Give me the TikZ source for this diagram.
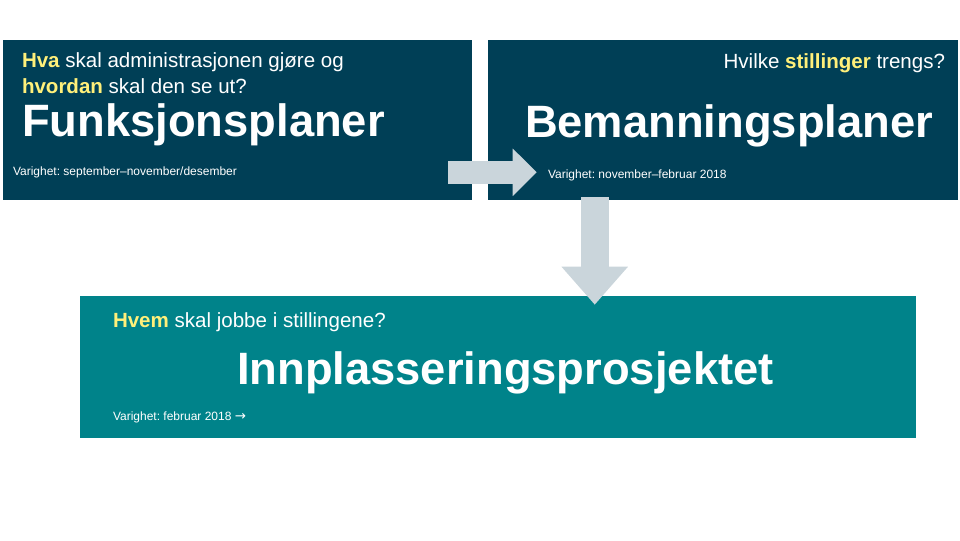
\documentclass[tikz,border=0pt]{standalone}
\usepackage{fontspec}
\setmainfont{Liberation Sans}
\newfontfamily\symfont{DejaVu Sans}
\usetikzlibrary{arrows.meta, positioning, calc}
\definecolor{navy}{HTML}{003F56}
\definecolor{sea}{HTML}{00838A}
\definecolor{mist}{HTML}{CAD5DB}
\definecolor{lemon}{HTML}{FFF07A}
\frenchspacing
\tikzset{
  plan/.style={
    rectangle, minimum width=351.75pt, minimum height=120pt,
    inner sep=0pt, fill=navy
  },
  project/.style={
    rectangle, minimum width=627pt, minimum height=106.5pt,
    inner sep=0pt, fill=sea
  },
  ask/.style={
    inner sep=0pt, text=white, align=left,
    font=\fontsize{15.4}{19.5}\selectfont
  },
  headline/.style={
    inner sep=0pt, text=white,
    font=\fontsize{34}{40}\selectfont\bfseries
  },
  period/.style={
    inner sep=0pt, text=white,
    font=\fontsize{9}{11}\selectfont
  },
  flow/.style={
    draw=mist, line width=17.25pt,
    -{Triangle[length=18pt, width=34.5pt]}
  },
  flowdown/.style={
    draw=mist, line width=21pt,
    -{Triangle[length=28.5pt, width=48pt]}
  }
}
\newcommand{\hl}[1]{\textbf{\textcolor{lemon}{#1}}}

\begin{document}
\begin{tikzpicture}[x=0.75pt, y=-0.75pt]
      \useasboundingbox (0,0) rectangle (960,540);

      % Boxes
      \node[plan] (funk) at (237.5,120) {};
      \node[plan, minimum width=352.5pt] (bem) at (723,120) {};
      \node[project] (innp) at (498,367) {};

      % Funksjonsplaner
      \node[ask, anchor=base west] (funkq1) at ([shift={(19,28)}]funk.north west)
        {\hl{Hva} skal administrasjonen gjøre og};
      \node[ask, anchor=base west] (funkq2) at ([shift={(19,54)}]funk.north west)
        {\hl{hvordan} skal den se ut?};
      \node[headline, anchor=base west] (funkt) at ([shift={(19,97)}]funk.north west)
        {Funksjonsplaner};
      \node[period, anchor=base west] (funkp) at ([shift={(10,136)}]funk.north west)
        {Varighet: september–november/desember};

      % Bemanningsplaner
      \node[ask, anchor=base east] (bemq) at ([shift={(-13,29)}]bem.north east)
        {Hvilke \hl{stillinger} trengs?};
      \node[headline, anchor=base west] (bemt) at ([shift={(37,98)}]bem.north west)
        {Bemanningsplaner};
      \node[period, anchor=base west] (bemp) at ([shift={(60,139)}]bem.north west)
        {Varighet: november–februar 2018};

      % Innplasseringsprosjektet
      \node[ask, anchor=base west] (innpq) at ([shift={(33,32)}]innp.north west)
        {\hl{Hvem} skal jobbe i stillingene?};
      \node[headline, anchor=base west] (innpt) at ([shift={(157,89)}]innp.north west)
        {Innplasseringsprosjektet};
      \node[period, anchor=base west] (innpp) at ([shift={(33,125)}]innp.north west)
        {Varighet: februar 2018 {\symfont\fontsize{10}{11}\selectfont →}};

      % Arrows between the steps
      \draw[flow] ([shift={(-24,-28)}]funk.south east) -- ([shift={(49,-28)}]bem.south west);
      \draw[flowdown] ([shift={(107,-3)}]bem.south west) -- ([shift={(515,9)}]innp.north west);
    \end{tikzpicture}
\end{document}
